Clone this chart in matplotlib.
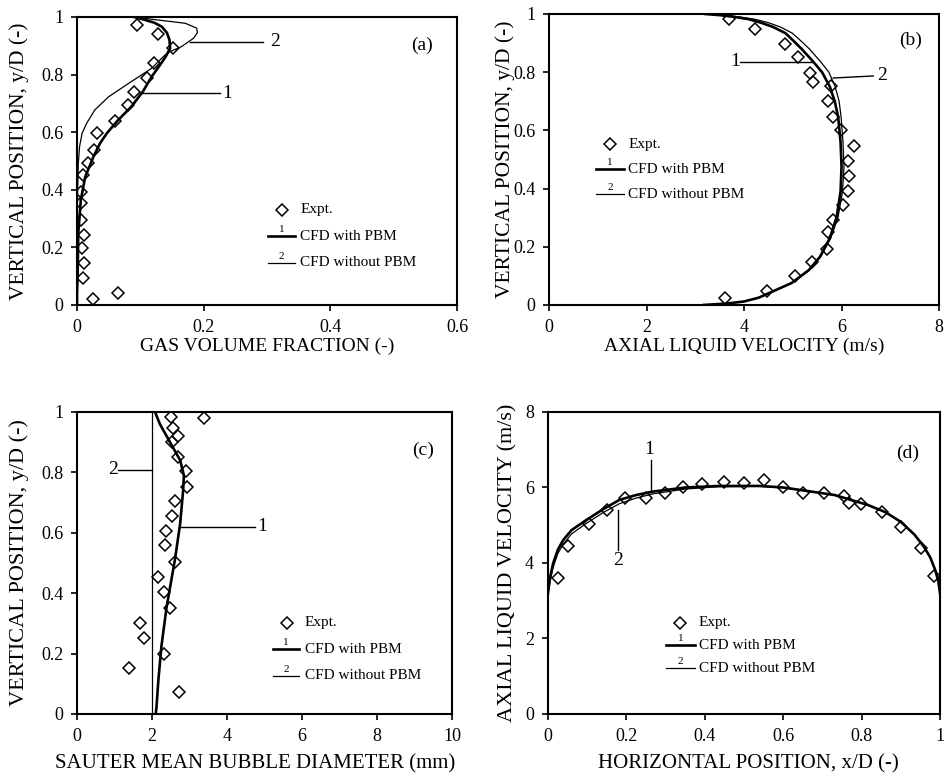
import matplotlib
matplotlib.use("Agg")
import matplotlib.pyplot as plt

plt.rcParams['font.family'] = ['Liberation Serif', 'DejaVu Serif']

# ---------------- (a) gas volume fraction ----------------
a_exp_x = [0.095, 0.128, 0.151, 0.121, 0.111, 0.090, 0.081, 0.060, 0.032, 0.027, 0.018,
           0.010, 0.006, 0.007, 0.007, 0.011, 0.008, 0.011, 0.010, 0.026, 0.065]
a_exp_y = [0.972, 0.940, 0.893, 0.839, 0.789, 0.741, 0.694, 0.640, 0.598, 0.538, 0.492,
           0.451, 0.393, 0.353, 0.295, 0.243, 0.197, 0.145, 0.095, 0.020, 0.040]
a_pbm_y = [0, 0.04, 0.1, 0.25, 0.365, 0.445, 0.515, 0.56, 0.596, 0.642, 0.689, 0.741, 0.793,
           0.833, 0.862, 0.891, 0.92, 0.945, 0.966, 0.98, 0.99, 1.0]
a_pbm_x = [0.0, 0.0, 0.001, 0.002, 0.006, 0.013, 0.026, 0.036, 0.047, 0.065, 0.086, 0.104,
           0.118, 0.131, 0.140, 0.147, 0.146, 0.142, 0.134, 0.122, 0.107, 0.09]
a_nopbm_y = [0, 0.3, 0.49, 0.55, 0.596, 0.63, 0.677, 0.723, 0.77, 0.822, 0.868, 0.88,
             0.897, 0.926, 0.945, 0.961, 0.978, 0.992, 1.0]
a_nopbm_x = [0, 0, 0.002, 0.004, 0.008, 0.015, 0.028, 0.05, 0.082, 0.118, 0.139, 0.147,
             0.165, 0.184, 0.19, 0.189, 0.171, 0.118, 0.09]

# ---------------- (b) axial liquid velocity vs y/D ----------------
b_exp_v = [3.69, 4.23, 4.84, 5.11, 5.35, 5.41, 5.78, 5.73, 5.82, 5.98, 6.26, 6.13, 6.16,
           6.13, 6.02, 5.83, 5.73, 5.71, 5.39, 5.05, 4.47, 3.61]
b_exp_y = [0.982, 0.947, 0.896, 0.851, 0.798, 0.767, 0.753, 0.702, 0.647, 0.601, 0.547,
           0.496, 0.444, 0.393, 0.344, 0.292, 0.250, 0.191, 0.147, 0.101, 0.048, 0.025]
b_line_y = [0, 0.005, 0.012, 0.025, 0.04, 0.075, 0.12, 0.166, 0.23, 0.303, 0.39, 0.475,
            0.56, 0.647, 0.70, 0.75, 0.80, 0.836, 0.88, 0.91, 0.934, 0.955, 0.97, 0.982,
            0.99, 0.996, 1.0]
b_pbm_v = [3.17, 3.65, 4.0, 4.3, 4.5, 4.97, 5.33, 5.56, 5.76, 5.9, 5.98, 6.0,
           5.98, 5.93, 5.86, 5.76, 5.6, 5.42, 5.18, 5.0, 4.85, 4.6, 4.35, 4.1,
           3.8, 3.5, 3.2]
b_nopbm_v = [3.17, 3.65, 4.0, 4.3, 4.5, 4.98, 5.34, 5.57, 5.78, 5.93, 6.02, 6.05,
             6.03, 5.99, 5.95, 5.87, 5.74, 5.57, 5.34, 5.15, 4.99, 4.75, 4.5, 4.22,
             3.9, 3.55, 3.2]

# ---------------- (c) Sauter mean bubble diameter ----------------
c_exp_d = [2.51, 3.39, 2.55, 2.70, 2.52, 2.70, 2.91, 2.94, 2.61, 2.52, 2.37, 2.35, 2.61,
           2.15, 2.33, 2.48, 1.68, 1.79, 2.33, 1.39, 2.72]
c_exp_y = [0.982, 0.981, 0.946, 0.922, 0.902, 0.850, 0.803, 0.753, 0.704, 0.654, 0.606,
           0.558, 0.502, 0.452, 0.403, 0.352, 0.302, 0.253, 0.200, 0.153, 0.074]
c_pbm_y = [0, 0.024, 0.113, 0.223, 0.355, 0.51, 0.63, 0.74, 0.79, 0.84, 0.9, 0.96, 1.0]
c_pbm_d = [2.1, 2.12, 2.17, 2.25, 2.39, 2.61, 2.75, 2.83, 2.85, 2.75, 2.48, 2.21, 2.08]
c_nopbm_y = [0, 1.0]
c_nopbm_d = [2.0, 2.0]

# ---------------- (d) axial liquid velocity vs x/D ----------------
d_exp_x = [0.026, 0.052, 0.105, 0.150, 0.197, 0.251, 0.298, 0.344, 0.393, 0.448, 0.499,
           0.551, 0.600, 0.651, 0.704, 0.756, 0.767, 0.798, 0.851, 0.900, 0.952, 0.984]
d_exp_v = [3.59, 4.45, 5.03, 5.39, 5.71, 5.71, 5.86, 6.02, 6.08, 6.15, 6.11,
           6.20, 6.00, 5.86, 5.86, 5.77, 5.58, 5.56, 5.36, 4.96, 4.39, 3.66]
d_line_x = [0, 0.005, 0.013, 0.025, 0.039, 0.06, 0.098, 0.14, 0.182, 0.225, 0.267, 0.351,
            0.435, 0.54, 0.6, 0.646, 0.731, 0.815, 0.86, 0.9, 0.935, 0.959, 0.975, 0.988,
            0.996, 1.0]
d_pbm_v = [3.2, 3.6, 3.99, 4.35, 4.61, 4.87, 5.14, 5.42, 5.67, 5.8, 5.89, 6.0,
           6.04, 6.04, 6.0, 5.93, 5.8, 5.54, 5.35, 5.09, 4.75, 4.43, 4.15, 3.81, 3.5, 3.2]
d_nopbm_v = [3.2, 3.5, 3.88, 4.25, 4.5, 4.77, 5.05, 5.33, 5.57, 5.72, 5.83, 5.96,
             6.02, 6.03, 5.99, 5.93, 5.8, 5.54, 5.35, 5.09, 4.75, 4.43, 4.15, 3.81, 3.5, 3.2]

# tick labels
yd_ticks = [0, 0.2, 0.4, 0.6, 0.8, 1]
yd_labels = ['0', '0.2', '0.4', '0.6', '0.8', '1']
a_xticks = [0, 0.2, 0.4, 0.6]
a_xlabels = ['0', '0.2', '0.4', '0.6']
b_xticks = [0, 2, 4, 6, 8]
c_xticks = [0, 2, 4, 6, 8, 10]
d_xticks = [0, 0.2, 0.4, 0.6, 0.8, 1]
d_xlabels = ['0', '0.2', '0.4', '0.6', '0.8', '1']
d_yticks = [0, 2, 4, 6, 8]

THICK = 1.9
THIN = 0.9
FS = 13

fig = plt.figure(figsize=(9.45, 7.77), dpi=100)
ax_a = fig.add_axes([0.0815, 0.6075, 0.4021, 0.3707])
ax_b = fig.add_axes([0.581, 0.6075, 0.4127, 0.3745])
ax_c = fig.add_axes([0.0815, 0.0811, 0.3968, 0.3887])
ax_d = fig.add_axes([0.5799, 0.0811, 0.4148, 0.3887])


def style(ax):
    for s in ['top', 'right', 'left', 'bottom']:
        ax.spines[s].set_linewidth(1.5)
    ax.tick_params(direction='out', length=4, width=1.2, labelsize=FS, pad=6)


def expt(ax, x, y):
    ax.plot(x, y, 'D', ms=6.5, mfc='none', mec='black', mew=1.1, zorder=3)


def legend(ax, fx, fy, dy, lx0, lx1, tx):
    # hand-built legend: diamond, then two line samples with small numbers above
    tr = ax.transAxes
    ax.plot([fx], [fy], 'D', ms=6, mfc='none', mec='black', mew=1.1, transform=tr)
    ax.text(tx, fy, 'Expt.', transform=tr, fontsize=11, va='center')
    for i, (lab, lw) in enumerate([('CFD with PBM', THICK), ('CFD without PBM', THIN)]):
        y = fy - dy * (i + 1)
        ax.plot([lx0, lx1], [y, y], color='black', lw=lw, transform=tr)
        ax.text((lx0 + lx1) / 2, y + 0.008, str(i + 1), transform=tr, fontsize=8,
                ha='center', va='bottom')
        ax.text(tx, y, lab, transform=tr, fontsize=11, va='center')


# (a)
style(ax_a)
expt(ax_a, a_exp_x, a_exp_y)
ax_a.plot(a_pbm_x, a_pbm_y, color='black', lw=THICK)
ax_a.plot(a_nopbm_x, a_nopbm_y, color='black', lw=THIN)
ax_a.set_xlim(0, 0.6)
ax_a.set_ylim(0, 1)
ax_a.set_xticks(a_xticks, a_xlabels)
ax_a.set_yticks(yd_ticks, yd_labels)
ax_a.set_xlabel('GAS VOLUME FRACTION (-)', fontsize=14)
ax_a.set_ylabel('VERTICAL POSITION, y/D (-)', fontsize=15.5)
ax_a.xaxis.set_label_coords(0.5, -0.113)
ax_a.yaxis.set_label_coords(-0.127, 0.5)
ax_a.plot([0.178, 0.294], [0.914, 0.914], color='black', lw=1.0)
ax_a.text(0.305, 0.914, '2', fontsize=14, va='center')
ax_a.plot([0.102, 0.226], [0.735, 0.735], color='black', lw=1.0)
ax_a.text(0.229, 0.735, '1', fontsize=14, va='center')
ax_a.text(0.907, 0.903, '(a)', transform=ax_a.transAxes, fontsize=14, ha='center', va='center')
legend(ax_a, 0.539, 0.33, 0.092, 0.503, 0.574, 0.587)

# (b)
style(ax_b)
expt(ax_b, b_exp_v, b_exp_y)
ax_b.plot(b_pbm_v, b_line_y, color='black', lw=THICK)
ax_b.plot(b_nopbm_v, b_line_y, color='black', lw=THIN)
ax_b.set_xlim(0, 8)
ax_b.set_ylim(0, 1)
ax_b.set_xticks(b_xticks)
ax_b.set_yticks(yd_ticks, yd_labels)
ax_b.set_xlabel('AXIAL LIQUID VELOCITY (m/s)', fontsize=14)
ax_b.set_ylabel('VERTICAL POSITION, y/D (-)', fontsize=15.5)
ax_b.xaxis.set_label_coords(0.5, -0.112)
ax_b.yaxis.set_label_coords(-0.088, 0.5)
ax_b.plot([3.92, 5.42], [0.835, 0.835], color='black', lw=1.0)
ax_b.text(3.92, 0.835, '1', fontsize=14, ha='right', va='center')
ax_b.plot([5.83, 6.65], [0.78, 0.787], color='black', lw=1.0)
ax_b.text(6.72, 0.787, '2', fontsize=14, va='center')
ax_b.text(0.927, 0.911, '(b)', transform=ax_b.transAxes, fontsize=14, ha='center', va='center')
legend(ax_b, 0.156, 0.552, 0.086, 0.121, 0.192, 0.203)

# (c)
style(ax_c)
expt(ax_c, c_exp_d, c_exp_y)
ax_c.plot(c_pbm_d, c_pbm_y, color='black', lw=THICK)
ax_c.plot(c_nopbm_d, c_nopbm_y, color='black', lw=THIN)
ax_c.set_xlim(0, 10)
ax_c.set_ylim(0, 1)
ax_c.set_xticks(c_xticks)
ax_c.set_yticks(yd_ticks, yd_labels)
ax_c.set_xlabel('SAUTER MEAN BUBBLE DIAMETER (mm)', fontsize=15)
ax_c.set_ylabel('VERTICAL POSITION, y/D (-)', fontsize=16)
ax_c.xaxis.set_label_coords(0.475, -0.133)
ax_c.yaxis.set_label_coords(-0.129, 0.5)
ax_c.plot([1.1, 2.0], [0.808, 0.808], color='black', lw=1.0)
ax_c.text(1.08, 0.808, '2', fontsize=14, ha='right', va='center')
ax_c.plot([2.75, 4.75], [0.62, 0.62], color='black', lw=1.0)
ax_c.text(4.8, 0.62, '1', fontsize=14, va='center')
ax_c.text(0.923, 0.874, '(c)', transform=ax_c.transAxes, fontsize=14, ha='center', va='center')
legend(ax_c, 0.559, 0.302, 0.088, 0.522, 0.593, 0.608)

# (d)
style(ax_d)
expt(ax_d, d_exp_x, d_exp_v)
ax_d.plot(d_line_x, d_pbm_v, color='black', lw=THICK)
ax_d.plot(d_line_x, d_nopbm_v, color='black', lw=THIN)
ax_d.set_xlim(0, 1)
ax_d.set_ylim(0, 8)
ax_d.set_xticks(d_xticks, d_xlabels)
ax_d.set_yticks(d_yticks)
ax_d.set_xlabel('HORIZONTAL POSITION, x/D (-)', fontsize=15)
ax_d.set_ylabel('AXIAL LIQUID VELOCITY (m/s)', fontsize=16)
ax_d.xaxis.set_label_coords(0.51, -0.133)
ax_d.yaxis.set_label_coords(-0.078, 0.5)
ax_d.plot([0.264, 0.264], [6.73, 5.89], color='black', lw=1.0)
ax_d.text(0.258, 6.78, '1', fontsize=14, ha='center', va='bottom')
ax_d.plot([0.178, 0.178], [5.4, 4.34], color='black', lw=1.0)
ax_d.text(0.178, 4.28, '2', fontsize=14, ha='center', va='top')
ax_d.text(0.918, 0.863, '(d)', transform=ax_d.transAxes, fontsize=14, ha='center', va='center')
legend(ax_d, 0.338, 0.302, 0.075, 0.30, 0.375, 0.385)

fig.savefig('out.png', dpi=100)
